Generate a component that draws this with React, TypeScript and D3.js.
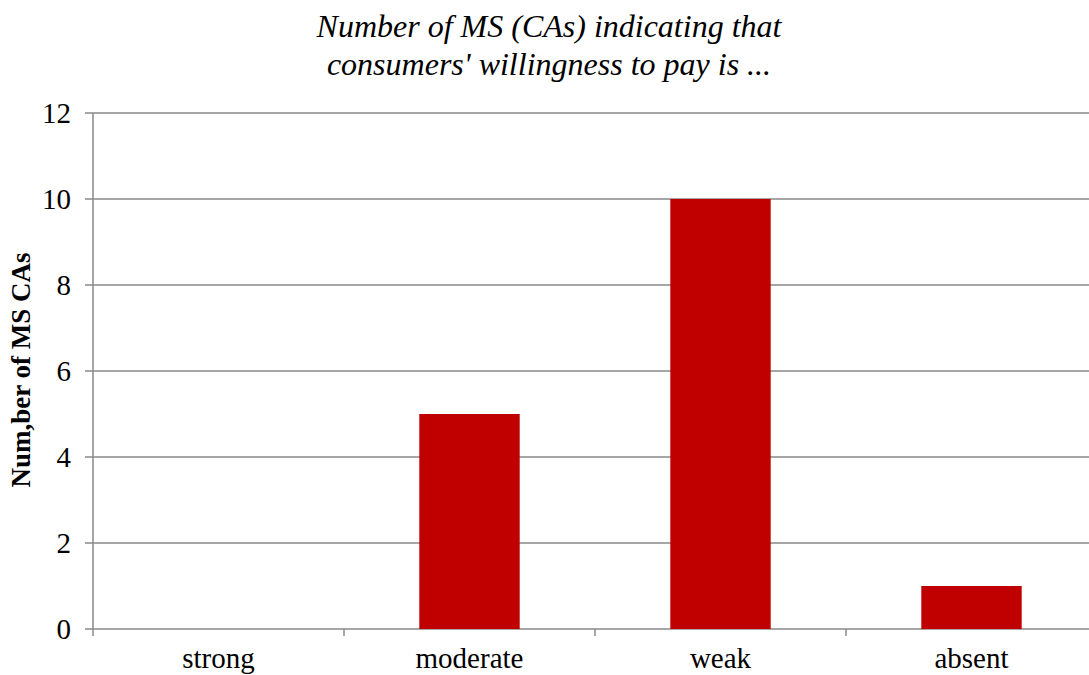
import * as d3 from "d3";

const categories = ["strong", "moderate", "weak", "absent"];
const counts = [0, 5, 10, 1];
const yTicks = [0, 2, 4, 6, 8, 10, 12];

function App() {
    const width = 1089
    const height = 675
    const margin = { top: 113, left: 93, bottom: 46 }
    const plotRight = 1097
    const plotBottom = height - margin.bottom

    const x = d3.scaleBand().domain(categories).range([margin.left, plotRight]).paddingInner(0).paddingOuter(0)
    const y = d3.scaleLinear().domain([0, 12]).range([629, margin.top])
    const barWidth = x.bandwidth() * 0.4
    const grid = "#888888"
    const font = "'Liberation Serif', 'Times New Roman', serif"

    return (
        <svg width={width} height={height} style={{ position: "absolute", left: 0, top: 0, background: "#ffffff" }} fontFamily={font}>
            {/* Title */}
            <text x={549} y={37} textAnchor="middle" fontSize={32} fontStyle="italic">Number of MS (CAs) indicating that</text>
            <text x={549} y={75} textAnchor="middle" fontSize={32} fontStyle="italic">consumers' willingness to pay is ...</text>

            {yTicks.map((t) => (
                <g key={t}>
                    <line x1={85} x2={plotRight} y1={y(t)} y2={y(t)} stroke={grid} strokeWidth={1.5}/>
                    <text x={71} y={y(t) + 10} textAnchor="end" fontSize={29}>{t}</text>
                </g>
            ))}

            <line x1={margin.left} x2={margin.left} y1={y(12)} y2={y(0) + 7} stroke={grid} strokeWidth={1.5}/>

            {categories.map((c, i) => (
                <g key={c}>
                    <line x1={x(c)! + x.bandwidth()} x2={x(c)! + x.bandwidth()} y1={y(0)} y2={y(0) + 7} stroke={grid} strokeWidth={1.5}/>
                    {counts[i] > 0 && (
                        <rect x={x(c)! + (x.bandwidth() - barWidth) / 2} y={y(counts[i])} width={barWidth} height={y(0) - y(counts[i])} fill="#c00000"/>
                    )}
                    <text x={x(c)! + x.bandwidth() / 2} y={plotBottom + 39} textAnchor="middle" fontSize={29}>{c}</text>
                </g>
            ))}

            <text transform={`translate(30, ${(y(0) + y(12)) / 2 - 1}) rotate(-90)`} textAnchor="middle" fontSize={27} fontWeight="bold">Num,ber of MS CAs</text>
        </svg>
    )
}

export default App;
